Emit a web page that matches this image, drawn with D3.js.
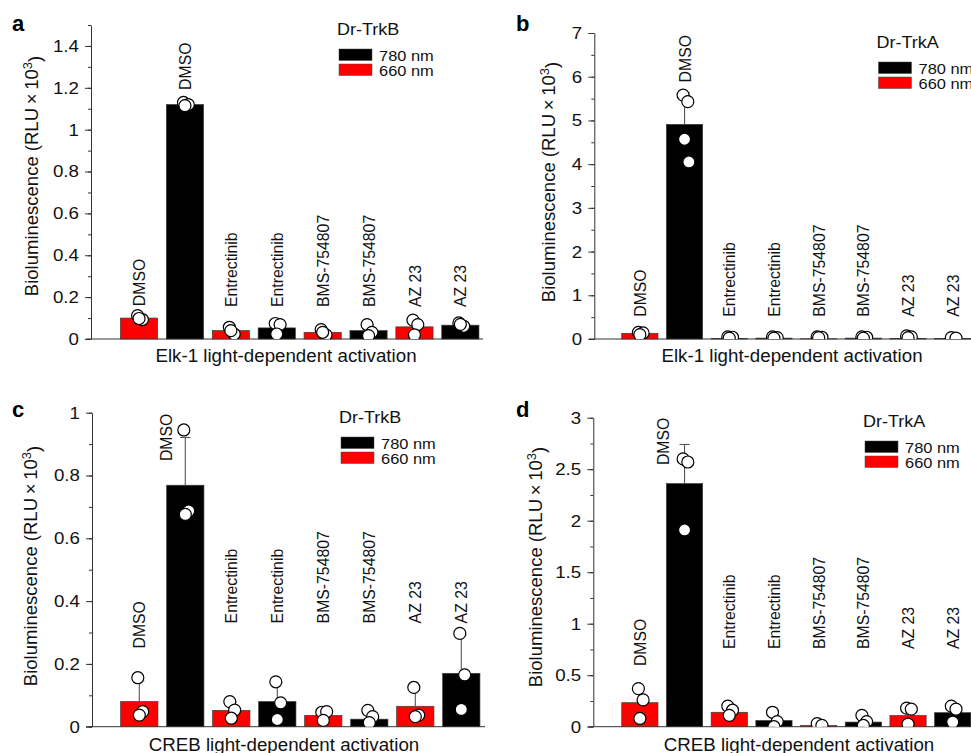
<!DOCTYPE html>
<html>
<head>
<meta charset="utf-8">
<script src="https://cdn.jsdelivr.net/npm/d3@7"></script>
<style>
  body { margin: 0; background: #fff; }
  svg { display: block; font-family: "Liberation Sans", Arial, Helvetica, sans-serif; }
</style>
</head>
<body>
<svg id="chart" width="971" height="753"></svg>
<script>
// ---- data ----
const categories = ["DMSO", "DMSO", "Entrectinib", "Entrectinib",
                    "BMS-754807", "BMS-754807", "AZ 23", "AZ 23"];
const wavelengths = ["660 nm", "780 nm", "660 nm", "780 nm", "660 nm", "780 nm", "660 nm", "780 nm"];
const legendKeys = ["780 nm", "660 nm"];

// a: Elk-1, Dr-TrkB
const elkTrkBMeans = [0.100, 1.120, 0.040, 0.053, 0.032, 0.040, 0.058, 0.066];
const elkTrkBErr = [0.010, 0.010, 0.016, 0.028, 0.013, 0.027, 0.036, 0.008];
const elkTrkBPoints = [
  [0.112, 0.093, 0.098], [1.130, 1.120, 1.115], [0.056, 0.024, 0.040], [0.074, 0.069, 0.024],
  [0.045, 0.020, 0.032], [0.069, 0.032, 0.016], [0.090, 0.069, 0.020], [0.077, 0.061, 0.070]
];
const elkTrkBTicks = [0, 0.2, 0.4, 0.6, 0.8, 1, 1.2, 1.4];
const elkTrkBLabelAt = [0.157, 1.19, 0.153, 0.153, 0.153, 0.153, 0.153, 0.153];

// b: Elk-1, Dr-TrkA
const elkTrkAMeans = [0.13, 4.91, 0.01, 0.02, 0.005, 0.02, 0.01, 0.01];
const elkTrkAErr = [0.02, 0.72, 0.02, 0.02, 0.01, 0.01, 0.02, 0.01];
const elkTrkAPoints = [
  [0.15, 0.14, 0.10], [5.58, 5.43, 4.57, 4.05], [0.05, 0.04, 0.02], [0.05, 0.03, 0.02],
  [0.05, 0.04, 0.03], [0.05, 0.04, 0.02], [0.07, 0.05, 0.03], [0.03, 0.02]
];
const elkTrkATicks = [0, 1, 2, 3, 4, 5, 6, 7];
const elkTrkALabelAt = [0.51, 5.87, 0.51, 0.51, 0.51, 0.51, 0.51, 0.51];

// c: CREB, Dr-TrkB
const crebTrkBMeans = [0.080, 0.769, 0.052, 0.080, 0.036, 0.024, 0.065, 0.170];
const crebTrkBErr = [0.066, 0.152, 0.027, 0.061, 0.017, 0.020, 0.052, 0.121];
const crebTrkBPoints = [
  [0.156, 0.048, 0.037], [0.945, 0.687, 0.676], [0.080, 0.053, 0.027], [0.143, 0.076, 0.023],
  [0.046, 0.048, 0.020], [0.052, 0.032, 0.013], [0.125, 0.037, 0.032], [0.297, 0.165, 0.055]
];
const crebTrkBTicks = [0, 0.2, 0.4, 0.6, 0.8, 1];
const crebTrkBLabelAt = [0.249, 0.846, 0.329, 0.329, 0.329, 0.329, 0.329, 0.329];

// d: CREB, Dr-TrkA
const crebTrkAMeans = [0.233, 2.36, 0.14, 0.06, 0.012, 0.045, 0.108, 0.136];
const crebTrkAErr = [0.14, 0.38, 0.045, 0.07, 0.012, 0.05, 0.09, 0.08];
const crebTrkAPoints = [
  [0.37, 0.26, 0.08], [2.60, 2.57, 1.91], [0.20, 0.16, 0.11], [0.14, 0.05, 0.0],
  [0.03, 0.013], [0.11, 0.05, 0.012], [0.18, 0.17, 0.025], [0.20, 0.17, 0.045]
];
const crebTrkATicks = [0, 0.5, 1, 1.5, 2, 2.5, 3];
const crebTrkALabelAt = [0.589, 2.54, 0.754, 0.754, 0.754, 0.754, 0.754, 0.754];

// ---- layout per panel ----
const panels = [
  { letter: "a", receptor: "Dr-TrkB", xTitle: "Elk-1 light-dependent activation",
    means: elkTrkBMeans, err: elkTrkBErr, points: elkTrkBPoints, ticks: elkTrkBTicks, labelAt: elkTrkBLabelAt,
    yMax: 1.5, minorStep: 0.1, axisX: 91, y0: 339, yTop: 25, bandStart: 116.1, step: 45.9,
    axisStart: 86, axisEnd: 483, letterPos: [12, 31], titlePos: [38, 176], xTitlePos: [286, 362],
    legend: [337, 35], labelDx: {} },
  { letter: "b", receptor: "Dr-TrkA", xTitle: "Elk-1 light-dependent activation",
    means: elkTrkAMeans, err: elkTrkAErr, points: elkTrkAPoints, ticks: elkTrkATicks, labelAt: elkTrkALabelAt,
    yMax: 7, minorStep: 0.5, axisX: 594.3, y0: 339, yTop: 33, bandStart: 617.5, step: 44.7,
    axisStart: 589, axisEnd: 971, letterPos: [516, 31], titlePos: [555, 182], xTitlePos: [792, 362],
    legend: [876.5, 48], labelDx: {} },
  { letter: "c", receptor: "Dr-TrkB", xTitle: "CREB light-dependent activation",
    means: crebTrkBMeans, err: crebTrkBErr, points: crebTrkBPoints, ticks: crebTrkBTicks, labelAt: crebTrkBLabelAt,
    yMax: 1, minorStep: 0.1, axisX: 92, y0: 726.7, yTop: 412.7, bandStart: 116.3, step: 46,
    axisStart: 86, axisEnd: 485, letterPos: [12, 417], titlePos: [37, 566], xTitlePos: [284, 751],
    legend: [339, 423], labelDx: { 1: -19 } },
  { letter: "d", receptor: "Dr-TrkA", xTitle: "CREB light-dependent activation",
    means: crebTrkAMeans, err: crebTrkAErr, points: crebTrkAPoints, ticks: crebTrkATicks, labelAt: crebTrkALabelAt,
    yMax: 3, minorStep: 0.25, axisX: 593.3, y0: 726.7, yTop: 417.7, bandStart: 617.5, step: 44.7,
    axisStart: 588, axisEnd: 971, letterPos: [516, 417], titlePos: [542, 567], xTitlePos: [799, 751],
    legend: [863, 427], labelDx: { 1: -22 } }
];

const colour = d3.scaleOrdinal().domain(legendKeys).range(["#000000", "#ff0000"]);
const jitter = [-0.04, 0.09, 0.0, 0.12];
const axisColour = "#333";

const svg = d3.select("#chart");
const defs = svg.append("defs");

panels.forEach((p, pi) => {
  const y = d3.scaleLinear().domain([0, p.yMax]).range([p.y0, p.yTop]);
  const x = d3.scaleBand()
    .domain(d3.range(categories.length))
    .range([p.bandStart, p.bandStart + p.step * categories.length])
    .paddingInner(0.19)
    .paddingOuter(0.095);
  const cx = (i) => x(i) + x.bandwidth() / 2;

  const g = svg.append("g");

  // minor ticks
  const minor = d3.range(Math.round(p.yMax / p.minorStep) + 1).map((k) => k * p.minorStep);
  g.append("g")
    .attr("transform", `translate(${p.axisX},0)`)
    .call(d3.axisLeft(y).tickValues(minor).tickSize(3).tickSizeOuter(0).tickFormat(""))
    .call((a) => a.selectAll("path,line").attr("stroke", axisColour));

  // major ticks
  g.append("g")
    .attr("transform", `translate(${p.axisX},0)`)
    .call(d3.axisLeft(y).tickValues(p.ticks).tickSize(6).tickPadding(5).tickSizeOuter(0).tickFormat(d3.format("~g")))
    .call((a) => a.select(".domain").remove())
    .call((a) => a.selectAll("line").attr("stroke", axisColour))
    .call((a) => a.selectAll("text")
      .attr("font-size", 17)
      .attr("fill", "#111")
      .attr("font-family", "Liberation Sans, Arial, sans-serif")
      .attr("transform", "scale(1.1,1)"));

  // baseline
  g.append("line")
    .attr("x1", p.axisStart).attr("x2", p.axisEnd)
    .attr("y1", y(0)).attr("y2", y(0))
    .attr("stroke", axisColour);

  // bars
  g.append("g").selectAll("rect")
    .data(p.means)
    .join("rect")
    .attr("x", (d, i) => x(i))
    .attr("y", (d) => y(d))
    .attr("width", x.bandwidth())
    .attr("height", (d) => y(0) - y(d))
    .attr("fill", (d, i) => colour(wavelengths[i]))
    .attr("stroke", "#3a3a3a")
    .attr("stroke-width", 0.7);

  // error bars (upper only)
  const eb = g.append("g").attr("stroke", "#555").attr("stroke-width", 1.1);
  p.means.forEach((m, i) => {
    eb.append("line").attr("x1", cx(i)).attr("x2", cx(i)).attr("y1", y(m)).attr("y2", y(m + p.err[i]));
    eb.append("line").attr("x1", cx(i) - 5).attr("x2", cx(i) + 5).attr("y1", y(m + p.err[i])).attr("y2", y(m + p.err[i]));
  });

  // points, clipped at the baseline
  defs.append("clipPath").attr("id", `clip${pi}`)
    .append("rect")
    .attr("x", p.axisX).attr("y", p.yTop - 20)
    .attr("width", 971 - p.axisX).attr("height", y(0) - p.yTop + 20);

  const pts = p.points.flatMap((vals, i) => vals.map((v, k) => ({ i, k, v })));
  g.append("g").attr("clip-path", `url(#clip${pi})`)
    .selectAll("circle")
    .data(pts)
    .join("circle")
    .attr("cx", (d) => cx(d.i) + jitter[d.k % jitter.length] * x.bandwidth())
    .attr("cy", (d) => y(d.v))
    .attr("r", 6)
    .attr("fill", "#fff")
    .attr("stroke", "#000")
    .attr("stroke-width", 1.2);

  // treatment labels
  g.append("g").selectAll("text")
    .data(categories)
    .join("text")
    .attr("transform", (d, i) => `translate(${cx(i) + (p.labelDx[i] || 0)},${y(p.labelAt[i])}) scale(1.1,1) rotate(-90)`)
    .attr("dy", "0.35em")
    .attr("font-size", 15.8)
    .attr("fill", "#111")
    .text((d) => d);

  // y title
  const yt = g.append("text")
    .attr("transform", `translate(${p.titlePos[0]},${p.titlePos[1]}) rotate(-90)`)
    .attr("text-anchor", "middle")
    .attr("font-size", 18.5)
    .attr("fill", "#111");
  yt.append("tspan").text("Bioluminescence (RLU\u2009\u00d7\u200910");
  yt.append("tspan").attr("dy", "-0.5em").attr("font-size", "70%").text("3");
  yt.append("tspan").attr("dy", "0.5em").text(")");

  // x title
  g.append("text")
    .attr("transform", `translate(${p.xTitlePos[0]},${p.xTitlePos[1]}) scale(1.07,1)`)
    .attr("text-anchor", "middle")
    .attr("font-size", 17.5)
    .attr("fill", "#111")
    .text(p.xTitle);

  // panel letter
  g.append("text")
    .attr("x", p.letterPos[0]).attr("y", p.letterPos[1])
    .attr("font-size", 22)
    .attr("font-weight", "bold")
    .text(p.letter);

  // legend
  const lg = g.append("g").attr("transform", `translate(${p.legend[0]},${p.legend[1]})`);
  lg.append("text")
    .attr("transform", "scale(1.06,1)")
    .attr("font-size", 17)
    .attr("fill", "#111")
    .text(p.receptor);
  legendKeys.forEach((key, k) => {
    lg.append("rect")
      .attr("x", 2).attr("y", 14 + k * 15)
      .attr("width", 33).attr("height", 11.5)
      .attr("fill", colour(key))
      .attr("stroke", "#444").attr("stroke-width", 0.5);
    lg.append("text")
      .attr("transform", `translate(42,${25.5 + k * 15}) scale(1.06,1)`)
      .attr("font-size", 15.5)
      .attr("fill", "#111")
      .text(key);
  });
});
</script>
</body>
</html>
